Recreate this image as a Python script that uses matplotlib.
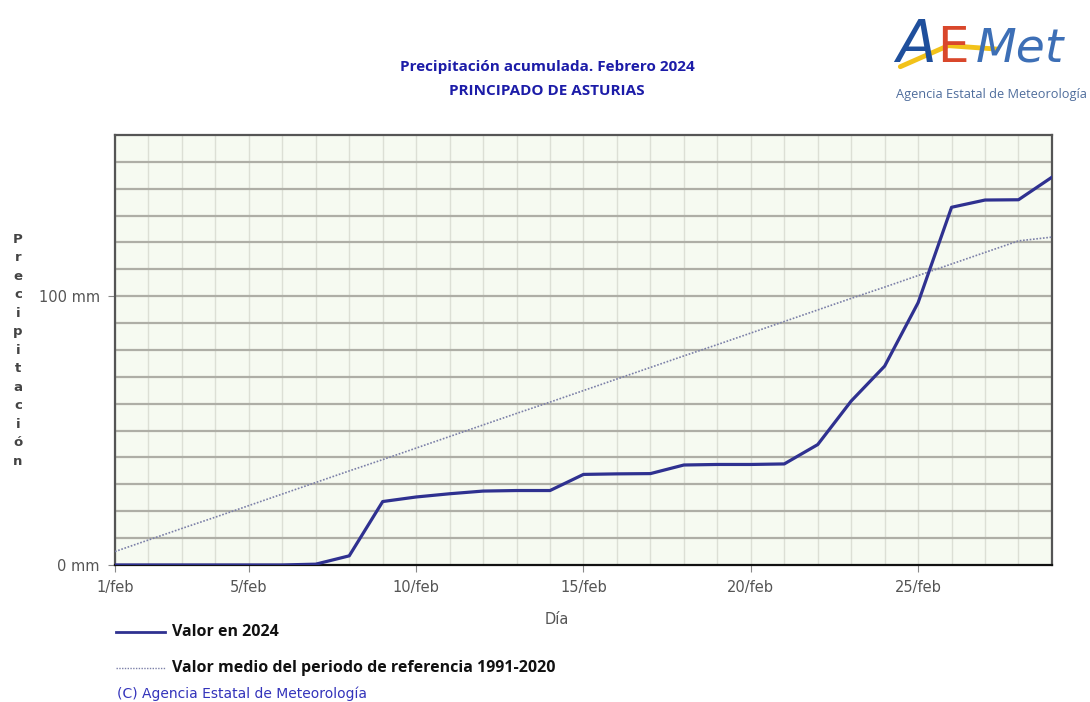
import matplotlib.pyplot as plt
from matplotlib.lines import Line2D

days = list(range(1, 30))
valor_2024 = [0, 0, 0, 0, 0, 0, 0.3, 3.4, 23.6, 25.3, 26.5, 27.5, 27.7, 27.7,
              33.7, 33.9, 34.0, 37.2, 37.4, 37.4, 37.6, 44.8, 61.0, 74.0, 97.6,
              133.1, 135.8, 135.9, 144.3]
valor_medio = [5.0, 9.3, 13.6, 17.8, 22.1, 26.4, 30.7, 35.0, 39.2, 43.5, 47.8,
               52.1, 56.4, 60.6, 64.9, 69.2, 73.5, 77.8, 82.0, 86.3, 90.6, 94.9,
               99.2, 103.4, 107.7, 112.0, 116.3, 120.6, 122.0]
xtick_days = [1, 5, 10, 15, 20, 25]
xtick_labels = ['1/feb', '5/feb', '10/feb', '15/feb', '20/feb', '25/feb']
ytick_vals = [0, 100]
ytick_labels = ['0 mm', '100 mm']

LINE = '#2f3190'
NORMAL = '#7c80a8'
TICKC = '#555555'

fig = plt.figure(figsize=(10.9, 7.02), dpi=100)
ax = fig.add_axes([0.1055, 0.1952, 0.8596, 0.6125])
ax.set_facecolor('#f6faf1')

# grid: light verticals per day, heavier horizontals every 10 mm
for d in days:
    ax.axvline(d, color='#dcdfd5', lw=1.0, zorder=1)
for v in range(10, 160, 10):
    ax.axhline(v, color='#aeaea6', lw=1.6, zorder=1)

ax.plot(days, valor_medio, color=NORMAL, lw=1.2, ls=(0, (1, 1)), zorder=3)
ax.plot(days, valor_2024, color=LINE, lw=2.3, zorder=4, solid_joinstyle='round')

ax.set_xlim(1, 29)
ax.set_ylim(0, 160)
ax.set_xticks(xtick_days)
ax.set_xticklabels(xtick_labels)
ax.set_yticks(ytick_vals)
ax.set_yticklabels(ytick_labels)
ax.tick_params(axis='both', direction='out', length=5, color='#888888',
               labelcolor=TICKC, labelsize=10.5, pad=6)
for side in ['left', 'top', 'right']:
    ax.spines[side].set_color('#555555')
    ax.spines[side].set_linewidth(1.6)
ax.spines['bottom'].set_color('#111111')
ax.spines['bottom'].set_linewidth(1.6)

fig.text(0.511, 0.118, 'Día', color=TICKC, fontsize=10.5, ha='center', va='center')

# vertical stacked y label
fig.text(0.0165, 0.501, '\n'.join('Precipitación'), color='#444444',
         fontsize=9.5, fontweight='bold', ha='center', va='center', linespacing=1.55)

# titles
fig.text(0.502, 0.905, 'Precipitación acumulada. Febrero 2024', color='#1c1ca8',
         fontsize=11, fontweight='bold', ha='center', va='center', family='Open Sans')
fig.text(0.502, 0.871, 'PRINCIPADO DE ASTURIAS', color='#1c1ca8',
         fontsize=11, fontweight='bold', ha='center', va='center', family='Open Sans')

# legend
fig.add_artist(Line2D([0.106, 0.151], [0.0997, 0.0997], color=LINE, lw=2.0))
fig.text(0.158, 0.0997, 'Valor en 2024', fontsize=11.5, fontweight='bold',
         color='#111111', va='center', family='Open Sans')
fig.add_artist(Line2D([0.106, 0.151], [0.0484, 0.0484], color=NORMAL, lw=1.0,
                      ls=(0, (1, 1))))
fig.text(0.158, 0.0484, 'Valor medio del periodo de referencia 1991-2020',
         fontsize=11.5, fontweight='bold', color='#111111', va='center',
         family='Open Sans')
fig.text(0.107, 0.012, '(C) Agencia Estatal de Meteorología', fontsize=10,
         color='#3333bb', va='center')

# logo
fig.add_artist(Line2D([0.826, 0.87, 0.915], [0.905, 0.935, 0.93], color='#f2c21a',
                      lw=3.5, solid_capstyle='round'))
fig.text(0.822, 0.935, 'A', fontsize=42, color='#1f4f9c', va='center',
         family='DejaVu Sans', fontstyle='italic', fontweight='light')
fig.text(0.86, 0.932, 'E', fontsize=36, color='#d9472b', va='center',
         family='DejaVu Sans')
fig.text(0.895, 0.93, 'Met', fontsize=34, color='#3d6fb6', va='center',
         family='DejaVu Sans', fontstyle='italic')
fig.text(0.822, 0.866, 'Agencia Estatal de Meteorología', fontsize=9.2,
         color='#4f6d9c', va='center', family='Open Sans')

plt.savefig('out.png', dpi=100)
